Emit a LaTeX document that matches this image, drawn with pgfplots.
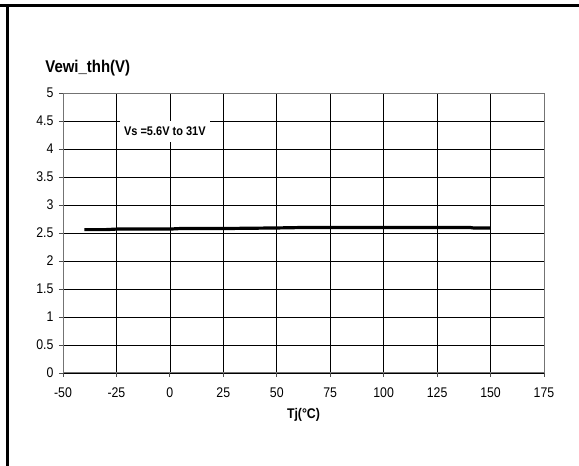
\documentclass[border=0pt]{standalone}
\usepackage{fontspec}
\setmainfont{Liberation Sans}[FakeStretch=0.88]
\usepackage{pgfplots}
\pgfplotsset{compat=1.18}
\begin{document}
\begin{tikzpicture}
\useasboundingbox (0,0) rectangle (579bp,466bp);
\draw[line width=2.5bp] (0,460.7bp) -- (579bp,460.7bp);
\draw[line width=2.5bp] (7.7bp,0) -- (7.7bp,461.9bp);
\begin{axis}[
  at={(63bp,93bp)}, anchor=south west,
  width=481bp, height=280bp, scale only axis,
  xmin=-50, xmax=175, ymin=0, ymax=5,
  xtick={-50,-25,...,175}, ytick={0,0.5,...,5},
  grid=major, major grid style={black, line width=0.6bp},
  axis line style={gray!90!black, line width=1bp},
  tick align=outside, major tick length=4bp,
  tick style={gray!60!black, line width=0.8bp},
  xtick pos=left, ytick pos=left,
  ticklabel style={font=\fontsize{14bp}{16bp}\selectfont},
  xticklabel style={yshift=-7bp},
  yticklabel style={xshift=-2bp},
  /pgf/number format/assume math mode=true,
  ylabel={Vewi\_thh(V)},
  ylabel style={rotate=-90, anchor=west, at={(axis description cs:-0.044,1.09)}, font=\fontsize{17bp}{19bp}\selectfont\bfseries},
  xlabel={Tj(°C)},
  xlabel style={anchor=center, at={(axis description cs:0.5,-0.15)}, font=\fontsize{14bp}{16bp}\selectfont\bfseries},
]
\addplot[black, line width=3.2bp, line join=round] coordinates {
  (-40,2.56) (-30,2.56) (-25,2.57) (0,2.57) (5,2.58) (25,2.58) (50,2.59)
  (65,2.60) (100,2.60) (140,2.60) (142,2.59) (150,2.59)
};
\node[fill=white, anchor=west, inner xsep=4bp, inner ysep=6bp, font=\fontsize{12.5bp}{14bp}\selectfont\bfseries] at (axis cs:-23.4,4.32) {Vs =5.6V to 31V};
\end{axis}
\end{tikzpicture}
\end{document}
